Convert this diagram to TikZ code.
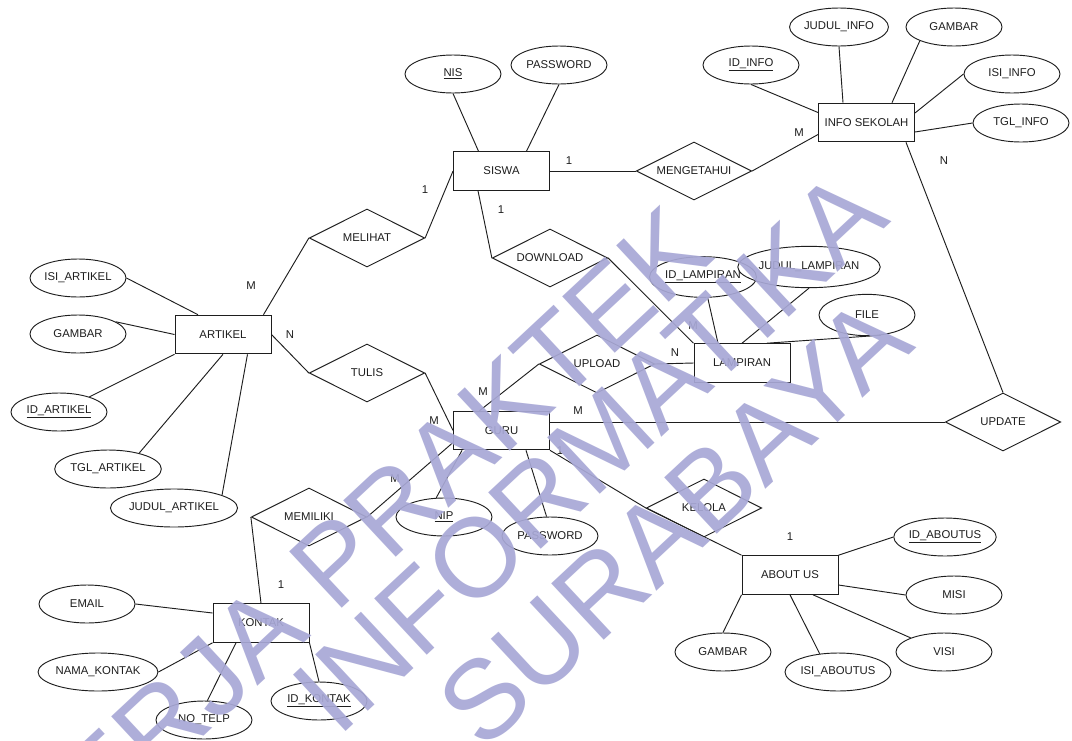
\documentclass[tikz,border=0pt]{standalone}
\usepackage{fontspec}
\setmainfont{Liberation Sans}
\usetikzlibrary{shapes.geometric,calc}
\definecolor{wmark}{RGB}{168,168,214}
\definecolor{ink}{RGB}{30,30,30}
\begin{document}
\begin{tikzpicture}[x=0.75pt,y=-0.75pt,
  lbl/.style={font=\fontsize{8.5}{10}\selectfont,text=ink},
  ent/.style={lbl,draw=ink,line width=0.7pt,rectangle,minimum width=72pt,minimum height=29pt,inner sep=0pt},
  attr/.style={lbl,draw=ink,line width=0.7pt,ellipse,minimum width=72pt,minimum height=28.5pt,inner sep=0pt},
  rel/.style={lbl,draw=ink,line width=0.7pt,diamond,aspect=2,minimum width=86.5pt,minimum height=43.5pt,inner sep=0pt},
  card/.style={lbl,inner sep=0pt},
  link/.style={draw=ink,line width=0.7pt},
  wm/.style={font=\fontsize{84}{84}\selectfont,text=wmark,opacity=0.92,rotate=43,inner sep=0pt}
]
\useasboundingbox (0,0) rectangle (1072,740);
\fill[white] (0,0) rectangle (1072,740);

% entities
\node[ent] (siswa)    at (501.5,171)   {SISWA};
\node[ent] (info)     at (866.5,122.5) {INFO SEKOLAH};
\node[ent] (artikel)  at (223,334.5)   {ARTIKEL};
\node[ent] (lampiran) at (742,363)     {LAMPIRAN};
\node[ent] (guru)     at (501.5,430.5) {GURU};
\node[ent] (about)    at (790,575)     {ABOUT US};
\node[ent] (kontak)   at (261,623)     {KONTAK};

% relationships
\node[rel] (meng)     at (694,171) {MENGETAHUI};
\node[rel] (melihat)  at (367,238) {MELIHAT};
\node[rel] (download) at (550,258) {DOWNLOAD};
\node[rel] (tulis)    at (367,373) {TULIS};
\node[rel] (upload)   at (597,364) {UPLOAD};
\node[rel] (update)   at (1003,422) {UPDATE};
\node[rel] (memiliki) at (309,517) {MEMILIKI};
\node[rel] (kelola)   at (704,508) {KELOLA};

% attributes
\node[attr] (nis)       at (453,74)   {\underline{NIS}};
\node[attr] (pwds)      at (559,65)   {PASSWORD};
\node[attr] (idinfo)    at (751,65)   {\underline{ID\_INFO}};
\node[attr] (judulinfo) at (839,27)   {JUDUL\_INFO};
\node[attr] (gambari)   at (954,27)   {GAMBAR};
\node[attr] (isiinfo)   at (1012,74)  {ISI\_INFO};
\node[attr] (tglinfo)   at (1021,123) {TGL\_INFO};
\node[attr] (isiartikel) at (78,278)  {ISI\_ARTIKEL};
\node[attr] (gambara)   at (78,334)   {GAMBAR};
\node[attr] (idartikel) at (59,412)   {\underline{ID\_ARTIKEL}};
\node[attr] (tglartikel) at (108,469) {TGL\_ARTIKEL};
\node[attr] (judula)    at (174,508)  {JUDUL\_ARTIKEL};
\node[attr,minimum width=73pt,minimum height=30.5pt] (idlamp) at (703,277) {\underline{ID\_LAMPIRAN}};
\node[attr,minimum width=85.5pt,minimum height=31pt] (judullamp) at (809,267) {JUDUL\_LAMPIRAN};
\node[attr,minimum height=31pt] (file) at (867,315) {FILE};
\node[attr] (nip)       at (444,517)  {\underline{NIP}};
\node[attr] (pwdg)      at (550,536)  {PASSWORD};
\node[attr] (idabout)   at (945,537)  {\underline{ID\_ABOUTUS}};
\node[attr] (misi)      at (954,595)  {MISI};
\node[attr] (visi)      at (944,652)  {VISI};
\node[attr] (isiabout)  at (838,672)  {ISI\_ABOUTUS};
\node[attr] (gambarab)  at (723,652)  {GAMBAR};
\node[attr] (email)     at (87,604)   {EMAIL};
\node[attr] (namak)     at (98,672)   {NAMA\_KONTAK};
\node[attr] (notelp)    at (204,720)  {NO\_TELP};
\node[attr] (idkontak)  at (319,701)  {\underline{ID\_KONTAK}};

% SISWA
\draw[link] (nis.south) -- ($(siswa.north)+(-23,0)$);
\draw[link] (pwds.south) -- ($(siswa.north)+(25,0)$);
\draw[link] (siswa.east) -- (meng.west);
\draw[link] (meng.east) -- ($(info.west)+(0,12)$);
\draw[link] (melihat.east) -- (siswa.west);
\draw[link] ($(siswa.south)+(-23.5,0)$) -- (download.west);

% INFO SEKOLAH
\draw[link] (idinfo.south) -- ($(info.west)+(0,-10)$);
\draw[link] (judulinfo.south) -- ($(info.north)+(-23.5,0)$);
\draw[link] (gambari.202) -- ($(info.north)+(25.5,0)$);
\draw[link] (isiinfo.west) -- ($(info.east)+(0,-9.5)$);
\draw[link] (tglinfo.west) -- ($(info.east)+(0,9.5)$);
\draw[link] ($(info.south)+(39.5,0)$) -- (update.north);

% ARTIKEL
\draw[link] (isiartikel.east) -- ($(artikel.north)+(-25,0)$);
\draw[link] (gambara.18) -- (artikel.west);
\draw[link] (idartikel) -- (artikel.south west);
\draw[link] (tglartikel.27) -- (artikel.south);
\draw[link] (judula.15) -- ($(artikel.south)+(24.5,0)$);
\draw[link] ($(artikel.north east)+(-8,0)$) -- (melihat.west);
\draw[link] (artikel.east) -- (tulis.west);
\draw[link] (tulis.east) -- (guru.west);

% LAMPIRAN
\draw[link] (download.east) -- (lampiran.north west);
\draw[link] (idlamp) -- ($(lampiran.north)+(-24,0)$);
\draw[link] (judullamp.south) -- (lampiran.north);
\draw[link] (file.-55) -- ($(lampiran.north)+(25,0)$);
\draw[link] ($(guru.north)+(-22,0)$) -- (upload.west);
\draw[link] (upload.east) -- (lampiran.west);

% GURU
\draw[link] (guru.east |- update.west) -- (update.west);
\draw[link] (memiliki.east) -- ($(guru.west)+(0,12)$);
\draw[link] (nip.112) -- ($(guru.south west)+(9,0)$);
\draw[link] (pwdg.100) -- ($(guru.south)+(24.5,0)$);
\draw[link] (guru.south east) -- (kelola.west) -- (about.north west);

% ABOUT US
\draw[link] (idabout.west) -- (about.north east);
\draw[link] (misi.west) -- ($(about.east)+(0,10)$);
\draw[link] (visi.157) -- ($(about.south)+(23,0)$);
\draw[link] (isiabout.135) -- (about.south);
\draw[link] (gambarab.north) -- (about.south west);

% KONTAK
\draw[link] (memiliki.west) -- (kontak.north);
\draw[link] (email.east) -- ($(kontak.west)+(0,-10)$);
\draw[link] (namak.east) -- (kontak.south west);
\draw[link] (notelp.80) -- ($(kontak.south)+(-25,0)$);
\draw[link] (idkontak.north) -- (kontak.south east);

% cardinalities
\node[card] (c1)  at (569,161) {1};
\node[card] (c2)  at (799,133) {M};
\node[card] (c3)  at (944,161) {N};
\node[card] (c4)  at (425,190) {1};
\node[card] (c5)  at (501,210) {1};
\node[card] (c6)  at (251,286) {M};
\node[card] (c7)  at (290,335) {N};
\node[card] (c8)  at (693,326) {M};
\node[card] (c9)  at (675,353) {N};
\node[card] (c10) at (483,392) {M};
\node[card] (c11) at (434,421) {M};
\node[card] (c12) at (578,411) {M};
\node[card] (c13) at (560,451) {1};
\node[card] (c14) at (395,479) {M};
\node[card] (c15) at (790,537) {1};
\node[card] (c16) at (281,585) {1};

% watermark
\node[wm] (wm1) at (357,542) {KERJA PRAKTEK};
\node[wm] (wm2) at (589,452) {INFORMATIKA};
\node[wm] (wm3) at (674,522) {SURABAYA};
\end{tikzpicture}
\end{document}
